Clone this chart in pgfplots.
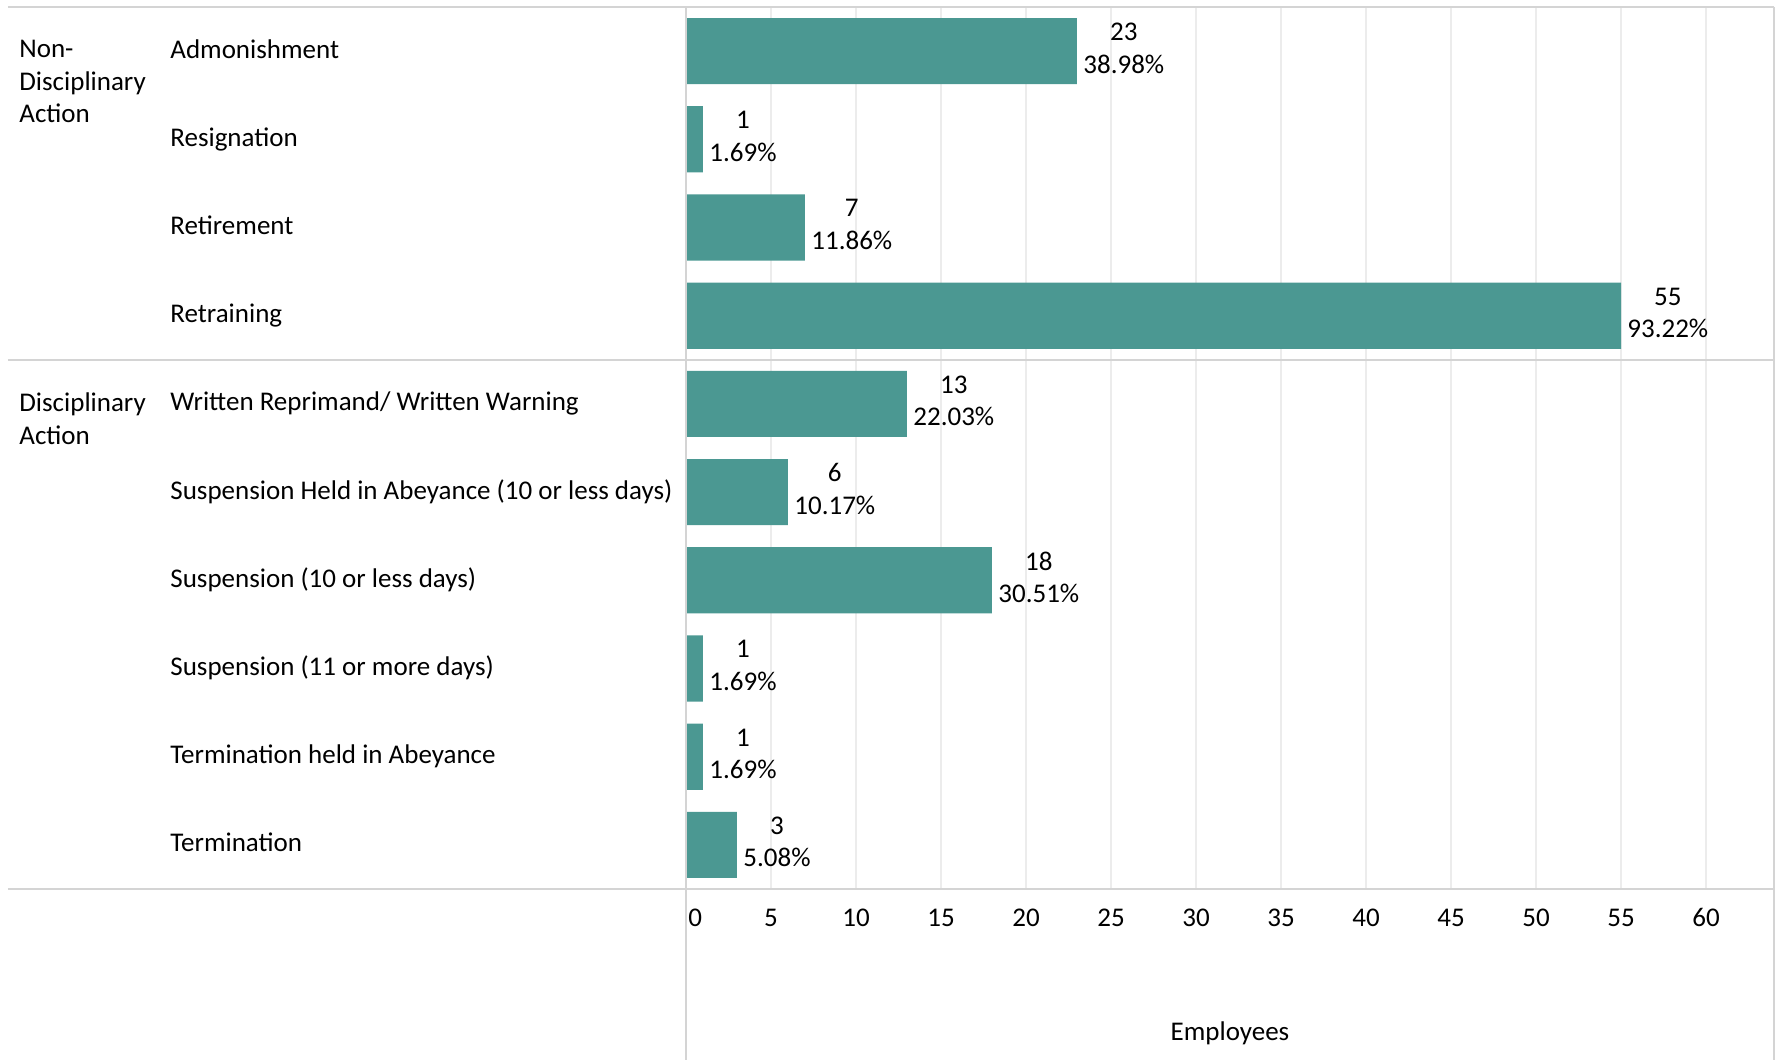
\documentclass[border=0pt]{standalone}
\usepackage{pgfplots}
\pgfplotsset{compat=1.18}
\usepackage{pgfplotstable}
\usepackage{fontspec}
\setmainfont{Carlito}
\definecolor{barc}{RGB}{75,152,146}
\definecolor{gridc}{RGB}{236,236,236}
\definecolor{linec}{RGB}{212,212,212}

\pgfplotstableread[col sep=comma]{
y,n,pct
0,23,38.98
1,1,1.69
2,7,11.86
3,55,93.22
4,13,22.03
5,6,10.17
6,18,30.51
7,1,1.69
8,1,1.69
9,3,5.08
}\data

\begin{document}
\begin{tikzpicture}[font=\fontsize{13.5}{16.25}\selectfont]
\useasboundingbox (-343pt,-85.5pt) rectangle (547.5pt,444.5pt);
\begin{axis}[
  at={(0,0)}, anchor=south west,
  scale only axis, width=544pt, height=441pt,
  xmin=0, xmax=64, ymin=-0.5, ymax=9.5, y dir=reverse,
  axis line style={draw=none},
  tick style={draw=none},
  /pgf/number format/assume math mode=true,
  xtick={5,10,...,60},
  extra x ticks={0},
  extra x tick style={xticklabel style={anchor=base west, xshift=1pt}},
  xticklabel style={anchor=base, yshift=-18.5pt, inner sep=0pt},
  xmajorgrids, grid style={gridc, line width=0.8pt},
  ytick={0,...,9},
  yticklabels={Admonishment,Resignation,Retirement,Retraining,Written Reprimand/ Written Warning,Suspension Held in Abeyance (10 or less days),Suspension (10 or less days),Suspension (11 or more days),Termination held in Abeyance,Termination},
  yticklabel style={anchor=base west, xshift=-258pt, yshift=-3.5pt, inner sep=0pt},
  xlabel={Employees},
  xlabel style={at={(axis description cs:0.5,0)}, anchor=base, yshift=-75.5pt, inner sep=0pt},
  clip=false,
]
\addplot[xbar, fill=barc, draw=none, bar width=0.75, bar shift=0pt,
  point meta=explicit symbolic,
  visualization depends on={\thisrow{n}\as\nval},
  nodes near coords={\pgfmathprintnumber[fixed,precision=0]{\nval}\\\pgfplotspointmeta\%},
  every node near coord/.append style={anchor=west, align=center, inner sep=0pt, xshift=3pt, yshift=1.5pt, text=black},
] table[x=n, y=y, meta=pct] {\data};
\end{axis}
\draw[linec, line width=1pt] (-339pt,441pt) -- (544pt,441pt);
\draw[linec, line width=1.2pt] (-339pt,264.6pt) -- (544pt,264.6pt);
\draw[linec, line width=1pt] (-339pt,0) -- (544pt,0);
\draw[linec, line width=0.8pt] (0,441pt) -- (0,-85.5pt);
\draw[linec, line width=0.8pt] (544pt,441pt) -- (544pt,-85.5pt);
\node[anchor=base west, align=left, inner sep=0pt] at (-333.5pt,383pt) {Non-\\Disciplinary\\Action};
\node[anchor=base west, align=left, inner sep=0pt] at (-333.5pt,222.25pt) {Disciplinary\\Action};
\end{tikzpicture}
\end{document}
